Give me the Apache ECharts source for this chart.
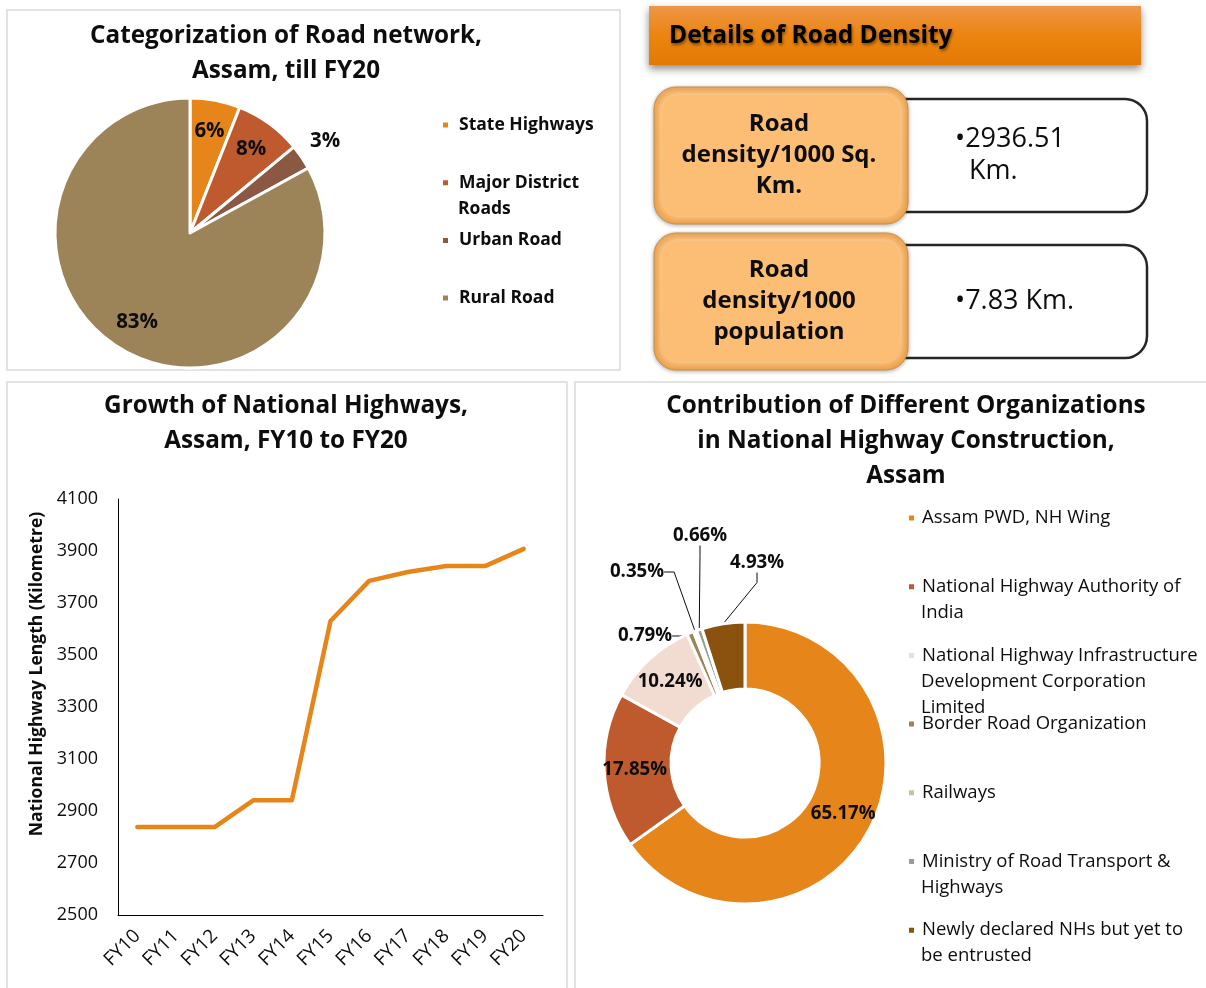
<!DOCTYPE html>
<html>
<head>
<meta charset="utf-8">
<title>Assam road network</title>
<script src="https://cdn.jsdelivr.net/npm/echarts@6/dist/echarts.min.js"></script>
<style>
  html, body { margin: 0; padding: 0; background: #fff; }
  #main { width: 1206px; height: 988px; }
</style>
</head>
<body>
<div id="main"></div>
<script>
// ---- data ----
var roadTypes = ['State Highways', 'Major District\nRoads', 'Urban Road', 'Rural Road'];
var roadShares = [6, 8, 3, 83];

var years = ['FY10', 'FY11', 'FY12', 'FY13', 'FY14', 'FY15', 'FY16', 'FY17', 'FY18', 'FY19', 'FY20'];
var nhLength = [2838, 2838, 2838, 2941, 2941, 3631, 3785, 3819, 3842, 3842, 3908];

var orgNames = [
    'Assam PWD, NH Wing',
    'National Highway Authority of\nIndia',
    'National Highway Infrastructure\nDevelopment Corporation\nLimited',
    'Border Road Organization',
    'Railways',
    'Ministry of Road Transport &\nHighways',
    'Newly declared NHs but yet to\nbe entrusted'
];
var orgShares = [65.17, 17.85, 10.24, 0.79, 0.35, 0.66, 4.93];

var densityLabels = ['Road\ndensity/1000 Sq.\nKm.', 'Road\ndensity/1000\npopulation'];
var densityValues = [['•2936.51', 'Km.'], ['•7.83 Km.']];

// ---- styles ----
var FONT = '"Open Sans", sans-serif';
var roadColors = ['#E6861A', '#BE5A2E', '#8B5843', '#9C8358'];
var orgColors = ['#E6861A', '#BE5A2E', '#F2DCD2', '#9D8358', '#C9C38F', '#93A18D', '#8A510F'];

var chart = echarts.init(document.getElementById('main'));

// pie geometry (top left)
var pieC = [190, 233], pieR = 135;
// donut geometry (bottom right)
var donutC = [745, 763];
// hand placed outside labels of the donut, like the original
var orgLabelPos = [null, null, null, [645, 636], [637, 572], [700, 536], [757, 563]];

function midAngle(values, idx) {
    var total = 0, before = 0;
    values.forEach(function (v, i) { total += v; if (i < idx) before += v; });
    return (before + values[idx] / 2) / total * Math.PI * 2;
}

// extra lines of wrapped legend names
function legendRest(names, x, top, step, lineH, font) {
    var out = [];
    names.forEach(function (n, i) {
        n.split('\n').slice(1).forEach(function (line, k) {
            out.push({
                type: 'text', x: x, y: top + i * step + (k + 1) * lineH,
                style: { text: line, font: font, fill: '#0d0d0d', verticalAlign: 'middle' }
            });
        });
    });
    return out;
}

var graphics = [
    // panel frames
    { type: 'rect', shape: { x: 7, y: 10, width: 613, height: 360 }, style: { fill: 'none', stroke: '#d9d9d9', lineWidth: 1.5 }, z: -1 },
    { type: 'rect', shape: { x: 7, y: 382, width: 560, height: 620 }, style: { fill: 'none', stroke: '#d9d9d9', lineWidth: 1.5 }, z: -1 },
    { type: 'rect', shape: { x: 575, y: 382, width: 640, height: 620 }, style: { fill: 'none', stroke: '#d9d9d9', lineWidth: 1.5 }, z: -1 },
    // header bar
    {
        type: 'rect', shape: { x: 649, y: 6, width: 492, height: 59 },
        style: {
            fill: new echarts.graphic.LinearGradient(0, 0, 0, 1, [
                { offset: 0, color: '#EE9649' }, { offset: 0.5, color: '#EC850E' }, { offset: 1, color: '#E27905' }
            ]),
            shadowBlur: 8, shadowOffsetY: 4, shadowColor: 'rgba(0,0,0,0.45)'
        }
    },
    {
        type: 'text', x: 669, y: 36,
        style: {
            text: 'Details of Road Density', font: 'bold 24.5px ' + FONT, fill: '#000', verticalAlign: 'middle',
            textShadowColor: 'rgba(0,0,0,0.45)', textShadowBlur: 3, textShadowOffsetX: 1, textShadowOffsetY: 2
        }
    }
];

var rowTops = [87, 233];
rowTops.forEach(function (top, i) {
    graphics.push({
        type: 'rect', shape: { x: 902, y: top + 12, width: 245, height: 113, r: [0, 22, 22, 0] },
        style: { fill: '#fff', stroke: '#262626', lineWidth: 2.5 }
    });
    graphics.push({
        type: 'rect', shape: { x: 654, y: top, width: 254, height: 137, r: 22 },
        style: {
            fill: new echarts.graphic.LinearGradient(0, 0, 0, 1, [
                { offset: 0, color: '#F5B062' }, { offset: 1, color: '#F2A955' }
            ]),
            stroke: '#C98D45', lineWidth: 1,
            shadowBlur: 4, shadowOffsetY: 1, shadowColor: 'rgba(0,0,0,0.3)'
        }
    });
    graphics.push({
        type: 'rect', shape: { x: 662, y: top + 8, width: 238, height: 121, r: 16 },
        style: { fill: '#FCBE75', shadowBlur: 6, shadowColor: '#FFE2B8' }
    });
    graphics.push({
        type: 'text', x: 779, y: top + 68,
        style: {
            text: densityLabels[i], font: 'bold 24px ' + FONT, fill: '#0d0d0d',
            align: 'center', verticalAlign: 'middle', lineHeight: 31
        }
    });
    var vals = densityValues[i];
    vals.forEach(function (t, k) {
        graphics.push({
            type: 'text', x: k === 0 ? 955 : 969, y: top + 68 + (k - (vals.length - 1) / 2) * 32,
            style: { text: t, font: '27px ' + FONT, fill: '#0d0d0d', verticalAlign: 'middle' }
        });
    });
});

graphics = graphics.concat(
    legendRest(roadTypes, 458, 125, 57.7, 26, 'bold 17.5px ' + FONT),
    legendRest(orgNames, 921, 518, 68.7, 26, '18.5px ' + FONT)
);

var titleText = { fontFamily: FONT, fontWeight: 'bold', fontSize: 24.3, color: '#0d0d0d', lineHeight: 35 };

chart.setOption({
    textStyle: { fontFamily: FONT },
    animation: false,
    title: [
        { text: 'Categorization of Road network,\nAssam, till FY20', left: 281, top: 14, textAlign: 'center', textStyle: titleText },
        { text: 'Growth of National Highways,\nAssam, FY10 to FY20', left: 281, top: 384, textAlign: 'center', textStyle: titleText },
        { text: 'Contribution of Different Organizations\nin National Highway Construction,\nAssam', left: 901, top: 384, textAlign: 'center', textStyle: titleText }
    ],
    legend: [
        {
            orient: 'vertical', left: 441, top: 115, padding: 0, itemWidth: 7, itemHeight: 7, itemGap: 37.7,
            icon: 'rect', data: roadTypes,
            formatter: function (n) { return n.split('\n')[0]; },
            textStyle: { fontSize: 17.5, fontWeight: 'bold', color: '#0d0d0d', lineHeight: 20, padding: [0, 0, 0, 5] }
        },
        {
            orient: 'vertical', left: 907, top: 508, padding: 0, itemWidth: 7, itemHeight: 7, itemGap: 48.7,
            icon: 'rect', data: orgNames,
            formatter: function (n) { return n.split('\n')[0]; },
            textStyle: { fontSize: 18.5, color: '#0d0d0d', lineHeight: 20, padding: [0, 0, 0, 2] }
        }
    ],
    grid: { left: 118, top: 499, width: 425, height: 416 },
    xAxis: {
        type: 'category', data: years, boundaryGap: true,
        axisLine: { lineStyle: { color: '#000', width: 1 } },
        axisTick: { show: false },
        axisLabel: { rotate: 45, fontSize: 19, color: '#0d0d0d', margin: 18, interval: 0 }
    },
    yAxis: {
        type: 'value', min: 2500, max: 4100, interval: 200,
        axisLine: { show: true, lineStyle: { color: '#000', width: 1 } },
        axisTick: { show: false },
        splitLine: { show: false },
        axisLabel: { fontSize: 18, color: '#0d0d0d', margin: 20, formatter: function (v) { return String(v); } },
        name: 'National Highway Length (Kilometre)', nameLocation: 'middle', nameGap: 72,
        nameTextStyle: { fontSize: 17.5, fontWeight: 'bold', color: '#0d0d0d', padding: [0, 0, 0, 66] }
    },
    series: [
        {
            type: 'pie', center: pieC, radius: pieR, startAngle: 90, clockwise: true,
            silent: true,
            data: roadTypes.map(function (n, i) {
                return { name: n, value: roadShares[i], itemStyle: { color: roadColors[i] } };
            }),
            itemStyle: { borderColor: '#fff', borderWidth: 3 },
            label: {
                position: 'inside', formatter: '{c}%', fontSize: 20.5, fontWeight: 'bold', color: '#0d0d0d'
            },
            labelLine: { show: false },
            labelLayout: function (p) {
                var a = midAngle(roadShares, p.dataIndex);
                var k = roadShares[p.dataIndex] < 5 ? 1.21 : 0.77;
                return {
                    x: pieC[0] + Math.sin(a) * pieR * k, y: pieC[1] - Math.cos(a) * pieR * k,
                    align: 'center', verticalAlign: 'middle'
                };
            }
        },
        {
            type: 'line', data: nhLength, showSymbol: false,
            lineStyle: { color: '#E6861A', width: 4.5, join: 'round', cap: 'round' },
            itemStyle: { color: '#E6861A' }
        },
        {
            type: 'pie', center: donutC, radius: [74, 141], startAngle: 90, clockwise: true,
            silent: true,
            data: orgNames.map(function (n, i) {
                var outside = orgLabelPos[i] != null;
                return {
                    name: n, value: orgShares[i], itemStyle: { color: orgColors[i] },
                    label: { position: outside ? 'outside' : 'inside' },
                    labelLine: { show: outside }
                };
            }),
            itemStyle: { borderColor: '#fff', borderWidth: 3 },
            label: {
                formatter: function (p) { return p.value.toFixed(2) + '%'; },
                fontSize: 18.7, fontWeight: 'bold', color: '#0d0d0d'
            },
            labelLine: { lineStyle: { color: '#0d0d0d', width: 1 }, length: 10, length2: 10 },
            labelLayout: function (p) {
                var pos = orgLabelPos[p.dataIndex];
                if (!pos) return {};
                return { x: pos[0], y: pos[1], align: 'center', verticalAlign: 'middle' };
            }
        }
    ],
    graphic: graphics
});

window.addEventListener('resize', function () { chart.resize(); });
</script>
</body>
</html>
